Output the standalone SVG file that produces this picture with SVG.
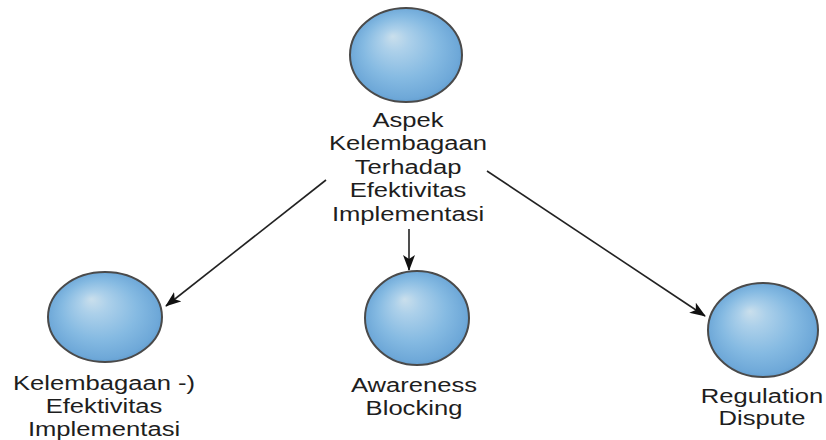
<svg xmlns="http://www.w3.org/2000/svg" width="826" height="440" viewBox="0 0 826 440">
  <style>
    .ball { fill: url(#sphere); stroke: #4a4a4a; stroke-width: 2; }
    .lbl { font-family: "Liberation Sans", Arial, sans-serif; font-size: 21px; fill: #1e1e1e; text-anchor: middle; }
    .edge { stroke: #222; stroke-width: 1.6; fill: none; marker-end: url(#head); }
  </style>
  <defs>
    <radialGradient id="sphere" cx="0.5" cy="0.5" r="0.55" fx="0.38" fy="0.3">
      <stop offset="0" stop-color="#cadfec"/>
      <stop offset="0.22" stop-color="#acd0ea"/>
      <stop offset="0.6" stop-color="#85bae2"/>
      <stop offset="0.88" stop-color="#6ea8d8"/>
      <stop offset="1" stop-color="#5a95c8"/>
    </radialGradient>
    <marker id="head" viewBox="0 0 16 12" refX="15" refY="6" markerWidth="16" markerHeight="12" markerUnits="userSpaceOnUse" orient="auto">
      <path d="M0,0 L16,6 L0,12 L4,6 z" fill="#111"/>
    </marker>
  </defs>

  <g id="connectors">
    <line class="edge" x1="326" y1="180" x2="166" y2="306"/>
    <line class="edge" x1="409" y1="229" x2="409" y2="270"/>
    <line class="edge" x1="487" y1="171" x2="705" y2="316"/>
  </g>

  <g id="node-aspek">
    <ellipse class="ball" cx="406" cy="55" rx="56" ry="47"/>
    <g transform="translate(408,0) scale(1.22,1)">
      <text class="lbl" x="0" y="127">Aspek</text>
      <text class="lbl" x="0" y="150.5">Kelembagaan</text>
      <text class="lbl" x="0" y="174">Terhadap</text>
      <text class="lbl" x="0" y="197.5">Efektivitas</text>
      <text class="lbl" x="0" y="221">Implementasi</text>
    </g>
  </g>

  <g id="node-kelembagaan">
    <ellipse class="ball" cx="105" cy="317" rx="57" ry="45"/>
    <g transform="translate(104,0) scale(1.22,1)">
      <text class="lbl" x="0" y="390">Kelembagaan -)</text>
      <text class="lbl" x="0" y="413">Efektivitas</text>
      <text class="lbl" x="0" y="436">Implementasi</text>
    </g>
  </g>

  <g id="node-awareness">
    <ellipse class="ball" cx="417" cy="318" rx="52" ry="47"/>
    <g transform="translate(414,0) scale(1.22,1)">
      <text class="lbl" x="0" y="392">Awareness</text>
      <text class="lbl" x="0" y="415">Blocking</text>
    </g>
  </g>

  <g id="node-regulation">
    <ellipse class="ball" cx="763" cy="330" rx="55" ry="47"/>
    <g transform="translate(762,0) scale(1.22,1)">
      <text class="lbl" x="0" y="403">Regulation</text>
      <text class="lbl" x="0" y="425">Dispute</text>
    </g>
  </g>
</svg>
